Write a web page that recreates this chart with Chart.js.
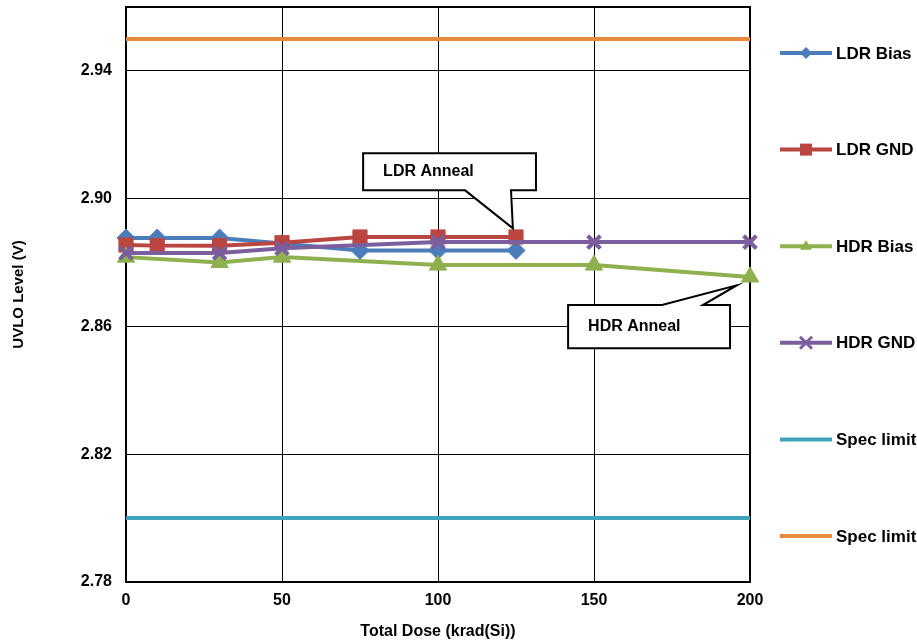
<!DOCTYPE html>
<html>
<head>
<meta charset="utf-8">
<title>UVLO Level vs Total Dose</title>
<script src="https://cdn.jsdelivr.net/npm/chart.js@4.4.1/dist/chart.umd.min.js"></script>
<style>
    html, body { margin: 0; padding: 0; background: #fff; }
    #wrap { width: 917px; height: 643px; }
</style>
</head>
<body>
<div id="wrap"><canvas id="uvloChart" width="917" height="643"></canvas></div>
<script>
/* =========================================
   UVLO LEVEL vs TOTAL DOSE
   ========================================= */

// ===== DATA =====
const ldrDose = [0, 10, 30, 50, 75, 100, 125];
const ldrBias = [2.8877, 2.8877, 2.8877, 2.8860, 2.8838, 2.8838, 2.8838];
const ldrGnd  = [2.8855, 2.8853, 2.8853, 2.8862, 2.8880, 2.8880, 2.8880];
const hdrDose = [0, 30, 50, 100, 150, 200];
const hdrBias = [2.8817, 2.8800, 2.8817, 2.8792, 2.8792, 2.8755];
const hdrGnd  = [2.8830, 2.8830, 2.8845, 2.8864, 2.8864, 2.8864];
const specDose = [0, 200];
const specLow  = [2.80, 2.80];
const specHigh = [2.95, 2.95];
const xTicks = [0, 50, 100, 150, 200];
const yTicks = [2.78, 2.82, 2.86, 2.90, 2.94];

const FONT = '"Liberation Sans", Arial, sans-serif';

// callout boxes, placed in data units
const callouts = [
    { text: 'LDR Anneal', box: [76, 131.4, 2.9142, 2.9026], base: [108.7, 123.4], tip: [124, 2.8907], pointer: 'bottom' },
    { text: 'HDR Anneal', box: [141.7, 193.6, 2.8667, 2.8532], base: [171.8, 184.9], tip: [195.8, 2.8729], pointer: 'top' }
];

const toXY = (xs, ys) => xs.map((x, i) => ({ x: x, y: ys[i] }));

function series(label, xs, ys, color, style, radius, order) {
    return {
        label: label,
        data: toXY(xs, ys),
        borderColor: color,
        backgroundColor: color,
        borderWidth: 4,
        pointStyle: style,
        pointRadius: style ? radius : 0,
        pointHoverRadius: style ? radius : 0,
        pointBackgroundColor: color,
        pointBorderColor: color,
        pointBorderWidth: style === 'crossRot' ? 4 : 1,
        tension: 0,
        fill: false,
        clip: false,
        order: order
    };
}

// ===== MARKER HELPER (legend) =====
function drawMarker(ctx, style, x, y, r, color) {
    ctx.save();
    ctx.fillStyle = color;
    ctx.strokeStyle = color;
    ctx.beginPath();
    if (style === 'rectRot') {
        ctx.moveTo(x, y - r); ctx.lineTo(x + r, y); ctx.lineTo(x, y + r); ctx.lineTo(x - r, y);
        ctx.closePath(); ctx.fill();
    } else if (style === 'rect') {
        ctx.rect(x - r, y - r, 2 * r, 2 * r); ctx.fill();
    } else if (style === 'triangle') {
        ctx.moveTo(x, y - r); ctx.lineTo(x + r, y + r * 0.6); ctx.lineTo(x - r, y + r * 0.6);
        ctx.closePath(); ctx.fill();
    } else if (style === 'crossRot') {
        ctx.lineWidth = 3;
        ctx.moveTo(x - r, y - r); ctx.lineTo(x + r, y + r);
        ctx.moveTo(x + r, y - r); ctx.lineTo(x - r, y + r);
        ctx.stroke();
    }
    ctx.restore();
}

// ===== PLOT FRAME =====
const framePlugin = {
    id: 'frame',
    beforeDatasetsDraw(chart) {
        const { ctx, chartArea: a } = chart;
        ctx.save();
        ctx.strokeStyle = '#000';
        ctx.lineWidth = 2;
        ctx.strokeRect(a.left, a.top, a.right - a.left, a.bottom - a.top);
        ctx.restore();
    }
};

// ===== CALLOUTS =====
const calloutPlugin = {
    id: 'callouts',
    afterDatasetsDraw(chart) {
        const { ctx } = chart;
        const xs = chart.scales.x, ys = chart.scales.y;
        callouts.forEach(c => {
            const l = xs.getPixelForValue(c.box[0]);
            const r = xs.getPixelForValue(c.box[1]);
            const t = ys.getPixelForValue(c.box[2]);
            const b = ys.getPixelForValue(c.box[3]);
            const b1 = xs.getPixelForValue(c.base[0]);
            const b2 = xs.getPixelForValue(c.base[1]);
            const tx = xs.getPixelForValue(c.tip[0]);
            const ty = ys.getPixelForValue(c.tip[1]);
            ctx.save();
            ctx.beginPath();
            if (c.pointer === 'bottom') {
                ctx.moveTo(l, t); ctx.lineTo(r, t); ctx.lineTo(r, b);
                ctx.lineTo(b2, b); ctx.lineTo(tx, ty); ctx.lineTo(b1, b);
                ctx.lineTo(l, b);
            } else {
                ctx.moveTo(l, t); ctx.lineTo(b1, t); ctx.lineTo(tx, ty); ctx.lineTo(b2, t);
                ctx.lineTo(r, t); ctx.lineTo(r, b); ctx.lineTo(l, b);
            }
            ctx.closePath();
            ctx.fillStyle = '#fff';
            ctx.fill();
            ctx.strokeStyle = '#000';
            ctx.lineWidth = 2;
            ctx.lineJoin = 'miter';
            ctx.stroke();
            ctx.fillStyle = '#000';
            ctx.font = 'bold 16px ' + FONT;
            ctx.textBaseline = 'middle';
            ctx.textAlign = 'left';
            ctx.fillText(c.text, l + 20, (t + b) / 2);
            ctx.restore();
        });
    }
};

// ===== SIDE LEGEND =====
const legendPlugin = {
    id: 'sideLegend',
    afterDraw(chart) {
        const { ctx, chartArea: a } = chart;
        const top = 53, step = 96.6;
        chart.data.datasets.forEach((ds, i) => {
            const y = top + i * step;
            ctx.save();
            ctx.strokeStyle = ds.borderColor;
            ctx.lineWidth = 4;
            ctx.beginPath();
            ctx.moveTo(a.right + 30, y);
            ctx.lineTo(a.right + 82, y);
            ctx.stroke();
            if (ds.pointRadius) drawMarker(ctx, ds.pointStyle, a.right + 56, y, 6, ds.borderColor);
            ctx.fillStyle = '#000';
            ctx.font = 'bold 17px ' + FONT;
            ctx.textBaseline = 'middle';
            ctx.fillText(ds.label, a.right + 86, y + 1);
            ctx.restore();
        });
    }
};

const noPad = s => { s.paddingTop = 0; s.paddingBottom = 0; s.paddingLeft = 0; s.paddingRight = 0; };

// ===== CHART =====
const ctx = document.getElementById('uvloChart');
new Chart(ctx, {
    type: 'line',
    data: {
        datasets: [
            series('LDR Bias', ldrDose, ldrBias, '#4A7DBA', 'rectRot', 9, 6),
            series('LDR GND', ldrDose, ldrGnd, '#BA4541', 'rect', 10, 5),
            series('HDR Bias', hdrDose, hdrBias, '#8EB04E', 'triangle', 10, 4),
            series('HDR GND', hdrDose, hdrGnd, '#7B5E9E', 'crossRot', 9, 3),
            series('Spec limit', specDose, specLow, '#3FA3BD', false, 0, 2),
            series('Spec limit', specDose, specHigh, '#E8893C', false, 0, 1)
        ]
    },
    options: {
        responsive: false,
        devicePixelRatio: 1,
        animation: false,
        layout: { autoPadding: false, padding: { top: 7, right: 167, left: 0, bottom: 0 } },
        plugins: {
            legend: { display: false },
            tooltip: { enabled: false }
        },
        scales: {
            x: {
                type: 'linear',
                min: 0,
                max: 200,
                afterBuildTicks: s => { s.ticks = xTicks.map(v => ({ value: v })); },
                afterFit: s => { s.height = 61; noPad(s); },
                grid: { color: '#000', lineWidth: 1, drawTicks: false },
                border: { color: '#000', width: 2 },
                ticks: {
                    padding: 9,
                    color: '#000',
                    font: { family: FONT, size: 16, weight: 'bold' },
                    callback: v => String(v)
                },
                title: {
                    display: true,
                    text: 'Total Dose (krad(Si))',
                    color: '#000',
                    font: { family: FONT, size: 16, weight: 'bold' },
                    padding: { top: 0, bottom: 2 }
                }
            },
            y: {
                type: 'linear',
                min: 2.78,
                max: 2.96,
                afterBuildTicks: s => { s.ticks = yTicks.map(v => ({ value: v })); },
                afterFit: s => { s.width = 126; noPad(s); },
                grid: { color: '#000', lineWidth: 1, drawTicks: false },
                border: { color: '#000', width: 2 },
                ticks: {
                    padding: 14,
                    color: '#000',
                    font: { family: FONT, size: 16, weight: 'bold' },
                    callback: v => v.toFixed(2)
                },
                title: {
                    display: true,
                    text: 'UVLO Level (V)',
                    color: '#000',
                    font: { family: FONT, size: 15, weight: 'bold' },
                    padding: { top: 10, bottom: 0 }
                }
            }
        }
    },
    plugins: [framePlugin, calloutPlugin, legendPlugin]
});
</script>
</body>
</html>
